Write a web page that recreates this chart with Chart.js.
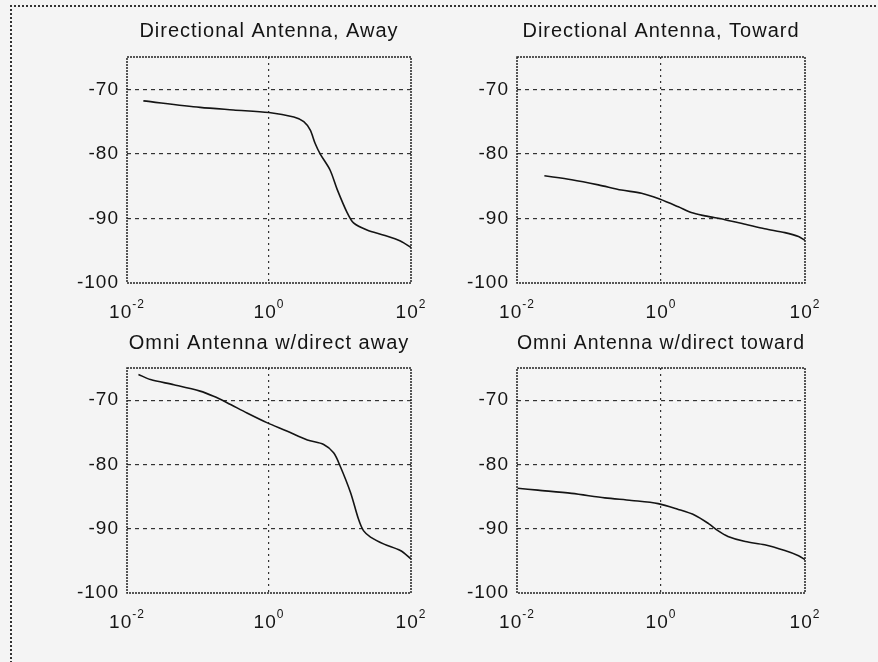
<!DOCTYPE html>
<html><head><meta charset="utf-8">
<script src="https://cdn.jsdelivr.net/npm/chart.js@4/dist/chart.umd.min.js"></script>
<style>
html,body{margin:0;padding:0;background:#f4f4f4;}
#wrap{position:relative;width:878px;height:662px;overflow:hidden;}
#frame{position:absolute;left:10px;top:5px;width:900px;height:700px;border-top:2px dotted #333;border-left:2px dotted #333;}
canvas{position:absolute;}
</style></head><body>
<div id="wrap"><div id="frame"></div>
<canvas id="c1" style="left:0;top:0" width="439" height="330"></canvas>
<canvas id="c2" style="left:439px;top:0" width="439" height="330"></canvas>
<canvas id="c3" style="left:0;top:330px" width="439" height="332"></canvas>
<canvas id="c4" style="left:439px;top:330px" width="439" height="332"></canvas>
</div>
<script>
// ---- data ----
const titles = ["Directional Antenna, Away", "Directional Antenna, Toward", "Omni Antenna w/direct away", "Omni Antenna w/direct toward"];
const xTickValues = [0.01, 1, 100];
const xTickBase = "10";
const xTickExps = ["-2", "0", "2"];
const yTickValues = [-100, -90, -80, -70];

const dirAwayX = [0.017, 0.107, 0.316, 1.0, 2.24, 3.09, 3.8, 4.47, 5.25, 7.24, 9.12, 12.6, 15.5, 24.0, 41.7, 70.8, 100];
const dirAwayY = [-71.8, -72.8, -73.2, -73.6, -74.3, -75.0, -76.3, -78.4, -80.0, -82.5, -85.5, -89.1, -90.7, -91.8, -92.6, -93.5, -94.5];

const dirTowardX = [0.024, 0.0575, 0.135, 0.282, 0.537, 0.955, 1.74, 2.63, 4.07, 7.76, 14.8, 27.5, 52.5, 81.3, 100];
const dirTowardY = [-83.4, -84.0, -84.8, -85.6, -86.1, -87.0, -88.2, -89.1, -89.6, -90.2, -90.9, -91.6, -92.2, -92.8, -93.4];

const omniAwayX = [0.0145, 0.0214, 0.0457, 0.107, 0.166, 0.257, 0.49, 0.933, 1.78, 3.47, 5.89, 8.13, 10, 14.1, 18.2, 21.4, 26.9, 41.7, 70.8, 100];
const omniAwayY = [-66.0, -66.8, -67.6, -68.6, -69.4, -70.4, -72.0, -73.5, -74.8, -76.2, -76.9, -78.2, -80.2, -84.4, -88.5, -90.3, -91.3, -92.4, -93.4, -94.7];

const omniTowardX = [0.0102, 0.0195, 0.0575, 0.166, 0.389, 0.912, 1.74, 2.95, 4.57, 6.17, 8.51, 14.8, 27.5, 52.5, 81.3, 100];
const omniTowardY = [-83.7, -84.0, -84.5, -85.2, -85.6, -86.1, -87.0, -87.9, -89.2, -90.3, -91.2, -92.0, -92.5, -93.4, -94.2, -94.8];

// ---- drawing ----
const FONT = '"Liberation Sans", Arial, sans-serif';
const INK = '#141414';

const deco = {
  id: 'deco',
  beforeDraw(chart) { chart.ctx.letterSpacing = '1px'; },
  afterDraw(chart) {
    const ctx = chart.ctx, a = chart.chartArea, xs = chart.scales.x;
    ctx.save();
    ctx.letterSpacing = '1px';
    ctx.strokeStyle = '#222';
    ctx.lineWidth = 1.5;
    ctx.setLineDash([2, 1]);
    ctx.strokeRect(a.left, a.top, a.right - a.left, a.bottom - a.top);
    ctx.setLineDash([]);
    ctx.fillStyle = INK;
    ctx.textBaseline = 'alphabetic';
    ctx.textAlign = 'left';
    const baseFont = '19px ' + FONT, expFont = '12px ' + FONT;
    xTickValues.forEach((v, i) => {
      const px = xs.getPixelForValue(v);
      ctx.font = baseFont;
      const bw = ctx.measureText(xTickBase).width;
      ctx.font = expFont;
      const ew = ctx.measureText(xTickExps[i]).width;
      const left = px - (bw + ew) / 2;
      ctx.font = baseFont;
      ctx.fillText(xTickBase, left, a.bottom + 35);
      ctx.font = expFont;
      ctx.fillText(xTickExps[i], left + bw, a.bottom + 25);
    });
    ctx.restore();
  }
};

function makeChart(id, title, xv, yv, cfg) {
  const pts = xv.map((x, i) => ({ x: x, y: yv[i] }));
  return new Chart(document.getElementById(id), {
    type: 'line',
    data: { datasets: [{ data: pts, borderColor: INK, borderWidth: 1.6, pointRadius: 0, tension: 0.3, fill: false }] },
    options: {
      responsive: false, animation: false, events: [],
      layout: { padding: { left: 0, right: cfg.padRight, top: 0, bottom: 0 } },
      plugins: {
        legend: { display: false }, tooltip: { enabled: false },
        title: { display: true, text: title, fullSize: false, color: INK,
          font: { family: FONT, size: 20, weight: 'normal', lineHeight: 1.2 },
          padding: { top: cfg.titleTop, bottom: cfg.titleBottom } }
      },
      scales: {
        x: {
          type: 'logarithmic', min: 0.01, max: 100,
          afterBuildTicks(s) { s.ticks = xTickValues.map(v => ({ value: v })); },
          afterFit(s) { s.height = cfg.xH; },
          ticks: { display: false },
          grid: { color: c => (c.tick && c.tick.value === 1) ? '#333' : 'rgba(0,0,0,0)', lineWidth: 1.2, drawTicks: false },
          border: { display: false, dash: [2, 4] }
        },
        y: {
          min: -100, max: -65,
          afterBuildTicks(s) { s.ticks = yTickValues.map(v => ({ value: v })); },
          afterFit(s) { s.width = cfg.yW; },
          ticks: { color: INK, font: { family: FONT, size: 19 }, padding: 8 },
          grid: { color: c => (c.tick && c.tick.value > -100) ? '#333' : 'rgba(0,0,0,0)', lineWidth: 1.2, drawTicks: false },
          border: { display: false, dash: [4, 4] }
        }
      }
    },
    plugins: [deco]
  });
}

makeChart('c1', titles[0], dirAwayX, dirAwayY, { padRight: 28, yW: 127, xH: 47, titleTop: 19.7, titleBottom: 13.3 });
makeChart('c2', titles[1], dirTowardX, dirTowardY, { padRight: 73, yW: 78, xH: 47, titleTop: 19.7, titleBottom: 13.3 });
makeChart('c3', titles[2], omniAwayX, omniAwayY, { padRight: 28, yW: 127, xH: 69, titleTop: 1.5, titleBottom: 12.5 });
makeChart('c4', titles[3], omniTowardX, omniTowardY, { padRight: 73, yW: 78, xH: 69, titleTop: 1.5, titleBottom: 12.5 });
</script>
</body></html>
